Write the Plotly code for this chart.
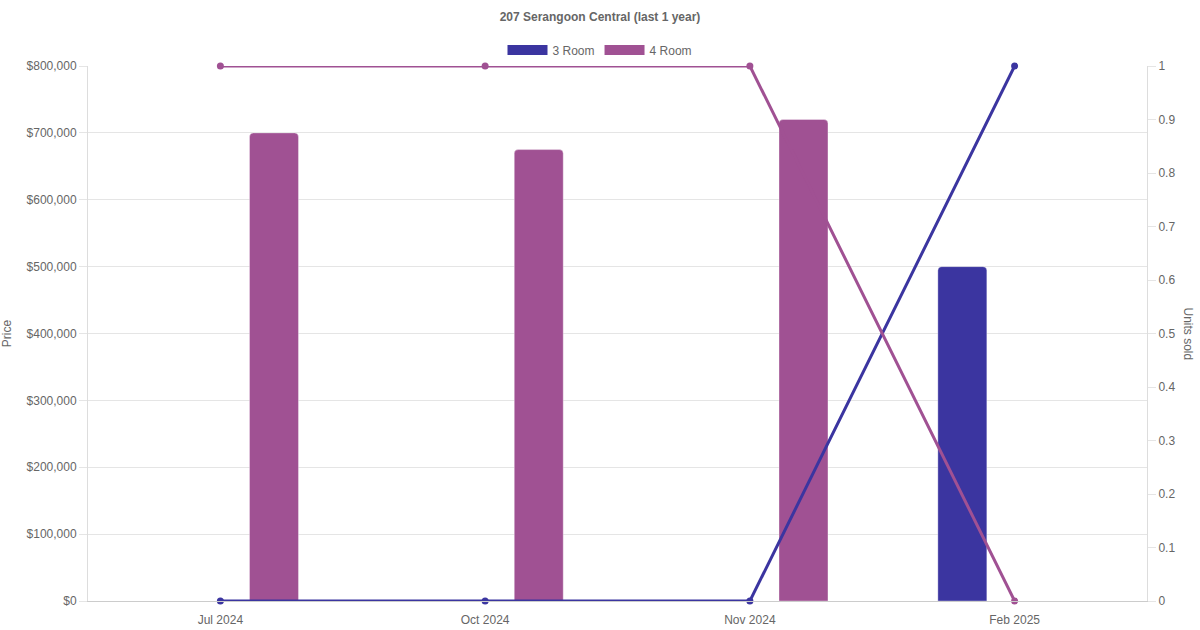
import plotly.graph_objects as go

# Données
months = ["Jul 2024", "Oct 2024", "Nov 2024", "Feb 2025"]
price_3room = [None, None, None, 500000]
price_4room = [700000, 675000, 720000, None]
units_3room = [0, 0, 0, 1]
units_4room = [1, 1, 1, 0]

c3 = "#3b35a0"
c4 = "#a05193"
grey = "#666666"

fig = go.Figure()

# Barres (prix)
fig.add_trace(go.Bar(
    x=months, y=price_3room, name="3 Room", showlegend=False,
    marker=dict(color=c3, line=dict(color="rgba(255,255,255,0.35)", width=1)),
    width=0.185, offset=-0.29, yaxis="y",
))
fig.add_trace(go.Bar(
    x=months, y=price_4room, name="4 Room", showlegend=False,
    marker=dict(color=c4, line=dict(color="rgba(255,255,255,0.35)", width=1)),
    width=0.185, offset=0.11, yaxis="y",
))

# Lignes (unités vendues)
fig.add_trace(go.Scatter(
    x=months, y=units_3room, name="3 Room", mode="lines+markers",
    line=dict(color=c3, width=3), marker=dict(size=7, color=c3),
    yaxis="y2", showlegend=False, cliponaxis=False,
))
fig.add_trace(go.Scatter(
    x=months, y=units_4room, name="4 Room", mode="lines+markers",
    line=dict(color=c4, width=3), marker=dict(size=7, color=c4),
    yaxis="y2", showlegend=False, cliponaxis=False,
))

# Entrées de légende (rectangles larges)
for name, col in [("3 Room", c3), ("4 Room", c4)]:
    fig.add_trace(go.Scatter(
        x=[None], y=[None], name=name, mode="lines",
        line=dict(color=col, width=12), yaxis="y2",
    ))

fig.update_layout(
    width=1200,
    height=630,
    barmode="overlay",
    barcornerradius=4,
    plot_bgcolor="white",
    paper_bgcolor="white",
    font=dict(family="Liberation Sans, Arial, sans-serif", size=12, color=grey),
    title=dict(
        text="<b>207 Serangoon Central (last 1 year)</b>",
        x=0.5, xanchor="center", y=1 - 17 / 630, yanchor="middle",
        font=dict(size=12, color=grey), automargin=False,
    ),
    legend=dict(
        orientation="h", xref="container", x=0.5, xanchor="center",
        yref="container", y=1 - 50 / 630, yanchor="middle",
        itemwidth=40,
        font=dict(size=12, color=grey),
    ),
    margin=dict(l=88, r=53, t=66, b=29, autoexpand=False),
    xaxis=dict(
        type="category", automargin=False,
        showgrid=False,
        showline=True, linecolor="#cccccc",
        ticks="", ticklabelstandoff=8, tickfont=dict(size=12, color=grey),
    ),
    yaxis=dict(
        title=dict(text="Price", font=dict(size=12, color=grey), standoff=14),
        automargin=False,
        range=[0, 800000], dtick=100000,
        tickprefix="$", tickformat=",d",
        showgrid=True, gridcolor="#e5e5e5",
        showline=True, linecolor="#dddddd",
        ticks="outside", ticklen=8, tickcolor="#e5e5e5",
        zeroline=False,
    ),
    yaxis2=dict(
        overlaying="y", side="right", automargin=False,
        range=[0, 1], dtick=0.1,
        showgrid=False,
        showline=True, linecolor="#dddddd",
        ticks="outside", ticklen=8, tickcolor="#e5e5e5",
        zeroline=False,
    ),
    annotations=[dict(
        text="Units sold", textangle=90,
        xref="paper", yref="paper", x=1.0, y=0.5,
        xanchor="center", yanchor="middle",
        xshift=41, showarrow=False,
        font=dict(size=12, color=grey),
    )],
)

# Pas de marge autour du graphique dans la page
fig.write_html(
    "out.html",
    config={"displayModeBar": False},
    post_script="document.body.style.margin='0';",
)
